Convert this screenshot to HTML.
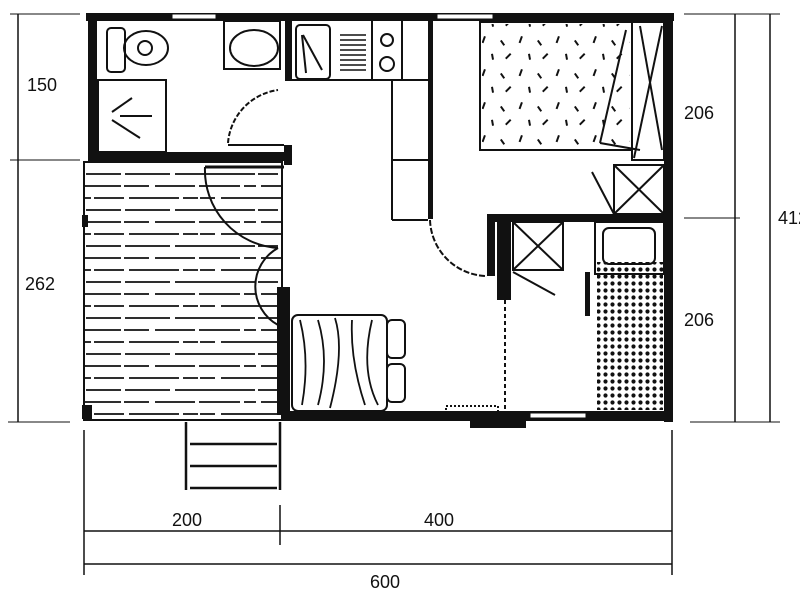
<!DOCTYPE html>
<html><head><style>
html,body{margin:0;padding:0;background:#fff;}
svg{display:block;}
text{font-family:"Liberation Sans",sans-serif;font-size:18px;fill:#111;}
</style></head><body>
<svg width="800" height="599" viewBox="0 0 800 599" xmlns="http://www.w3.org/2000/svg">
<defs>
<pattern id="dots" width="7" height="7" patternUnits="userSpaceOnUse"><circle cx="3.5" cy="3.5" r="2.1" fill="#111"/></pattern>
<pattern id="deck" width="200" height="36" patternUnits="userSpaceOnUse">
<line x1="0" y1="6" x2="200" y2="6" stroke="#111" stroke-width="1.8" stroke-dasharray="40 4 12 5 60 3 25 6"/>
<line x1="0" y1="18" x2="200" y2="18" stroke="#111" stroke-width="1.8" stroke-dasharray="15 6 70 3 30 5 50 4"/>
<line x1="0" y1="30" x2="200" y2="30" stroke="#111" stroke-width="1.8" stroke-dasharray="55 3 20 8 35 4 45 5"/>
</pattern>
<pattern id="spk" width="37" height="33" patternUnits="userSpaceOnUse">
<rect x="3" y="3" width="2" height="7" fill="#111" transform="rotate(20 3 3)"/>
<rect x="19" y="8" width="2" height="6" fill="#111" transform="rotate(-35 19 8)"/>
<rect x="29" y="20" width="2" height="7" fill="#111" transform="rotate(45 29 20)"/>
<rect x="10" y="21" width="2" height="6" fill="#111" transform="rotate(-10 10 21)"/>
</pattern>
</defs>
<g stroke="#111" fill="none">
<line x1="18" y1="14" x2="18" y2="422" stroke-width="1.5"/>
<line x1="10" y1="14" x2="80" y2="14"/><line x1="10" y1="160" x2="80" y2="160"/><line x1="8" y1="422" x2="70" y2="422"/>
<line x1="735" y1="14" x2="735" y2="422" stroke-width="1.5"/>
<line x1="770" y1="14" x2="770" y2="422" stroke-width="1.5"/>
<line x1="684" y1="14" x2="780" y2="14"/><line x1="684" y1="218" x2="740" y2="218"/><line x1="690" y1="422" x2="780" y2="422"/>
<line x1="84" y1="430" x2="84" y2="575" stroke-width="1.5"/>
<line x1="672" y1="430" x2="672" y2="575" stroke-width="1.5"/>
<line x1="280" y1="505" x2="280" y2="545" stroke-width="1.5"/>
<line x1="84" y1="531" x2="672" y2="531" stroke-width="1.5"/>
<line x1="84" y1="564" x2="672" y2="564" stroke-width="1.5"/>
</g>
<text x="27" y="91">150</text>
<text x="25" y="290">262</text>
<text x="684" y="119">206</text>
<text x="684" y="326">206</text>
<text x="778" y="224">412</text>
<text x="172" y="526">200</text>
<text x="424" y="526">400</text>
<text x="370" y="588">600</text>

<rect x="84" y="162" width="198" height="258" fill="url(#deck)"/>
<rect x="84" y="162" width="198" height="258" fill="none" stroke="#111" stroke-width="2"/>
<rect x="82" y="215" width="6" height="12" fill="#111"/>
<rect x="82" y="405" width="10" height="14" fill="#111"/>
<g stroke="#111" stroke-width="2.5" fill="none">
<line x1="186" y1="422" x2="186" y2="490"/><line x1="280" y1="422" x2="280" y2="490"/>
<line x1="190" y1="444" x2="277" y2="444"/><line x1="190" y1="466" x2="277" y2="466"/><line x1="190" y1="488" x2="277" y2="488"/>
</g>

<g fill="#111">
<rect x="86" y="13" width="588" height="8"/>
<rect x="88" y="13" width="9" height="148"/>
<rect x="664" y="13" width="9" height="409"/>
<rect x="282" y="411" width="391" height="10"/>
<rect x="88" y="152" width="204" height="9"/>
<rect x="284" y="145" width="8" height="20"/>
<rect x="285" y="21" width="7" height="60"/>
<rect x="428" y="21" width="5" height="198"/>
<rect x="277" y="287" width="13" height="128"/>
<rect x="487" y="214" width="186" height="8"/>
<rect x="487" y="214" width="8" height="62"/>
<rect x="497" y="222" width="14" height="78"/>
<rect x="585" y="272" width="5" height="44"/>
<rect x="470" y="420" width="56" height="8"/>
</g>
<rect x="172" y="14" width="44" height="5" fill="#fff" stroke="#111"/>
<rect x="437" y="14" width="56" height="5" fill="#fff" stroke="#111"/>
<rect x="530" y="413" width="56" height="5" fill="#fff" stroke="#111"/>
<rect x="446" y="406" width="52" height="6" fill="none" stroke="#111" stroke-width="2" stroke-dasharray="2 2"/>

<rect x="482" y="24" width="148" height="124" fill="url(#spk)"/>
<g stroke="#111" fill="none" stroke-width="2">
<rect x="107" y="28" width="18" height="44" rx="4"/>
<ellipse cx="146" cy="48" rx="22" ry="17"/>
<circle cx="145" cy="48" r="7"/>
<rect x="224" y="21" width="56" height="48"/>
<ellipse cx="254" cy="48" rx="24" ry="18"/>
<rect x="98" y="80" width="68" height="72"/>
<line x1="120" y1="116" x2="152" y2="116"/><line x1="112" y1="112" x2="132" y2="98"/><line x1="112" y1="120" x2="140" y2="138"/>
<path d="M228 143 A58 58 0 0 1 278 90" stroke-dasharray="5 2"/>
<line x1="228" y1="145" x2="284" y2="145"/>
<rect x="296" y="25" width="34" height="54" rx="4"/>
<line x1="302" y1="35" x2="306" y2="73"/><line x1="303" y1="35" x2="322" y2="70"/>
<g stroke-width="1.5"><line x1="340" y1="35" x2="366" y2="35"/><line x1="340" y1="40" x2="366" y2="40"/><line x1="340" y1="45" x2="366" y2="45"/><line x1="340" y1="50" x2="366" y2="50"/><line x1="340" y1="55" x2="366" y2="55"/><line x1="340" y1="60" x2="366" y2="60"/><line x1="340" y1="65" x2="366" y2="65"/><line x1="340" y1="70" x2="366" y2="70"/></g>
<line x1="292" y1="80" x2="428" y2="80"/>
<line x1="372" y1="21" x2="372" y2="80"/><line x1="402" y1="21" x2="402" y2="80"/>
<circle cx="387" cy="40" r="6"/><circle cx="387" cy="64" r="7"/>
<line x1="392" y1="80" x2="392" y2="220"/><line x1="392" y1="160" x2="428" y2="160"/><line x1="392" y1="220" x2="428" y2="220"/>
<path d="M430 220 A58 58 0 0 0 486 276" stroke-dasharray="6 2"/>
<path d="M205 167 A78 78 0 0 0 278 248" />
<path d="M278 248 A44 44 0 0 0 278 325"/>
<line x1="205" y1="167" x2="284" y2="167" stroke-width="3"/>
<rect x="480" y="22" width="152" height="128"/>
<line x1="632" y1="22" x2="632" y2="150"/>
<line x1="600" y1="143" x2="626" y2="30"/><line x1="600" y1="143" x2="640" y2="150"/>
<rect x="632" y="22" width="32" height="138"/>
<line x1="634" y1="158" x2="662" y2="26"/><line x1="640" y1="26" x2="662" y2="150"/>
<rect x="614" y="165" width="50" height="49"/>
<line x1="614" y1="165" x2="664" y2="214"/><line x1="664" y1="165" x2="614" y2="214"/>
<line x1="592" y1="172" x2="614" y2="214"/>
<rect x="513" y="222" width="50" height="48"/>
<line x1="513" y1="222" x2="563" y2="270"/><line x1="563" y1="222" x2="513" y2="270"/>
<line x1="513" y1="272" x2="555" y2="295"/>
<line x1="505" y1="300" x2="505" y2="410" stroke-dasharray="4 3"/>
<rect x="595" y="222" width="69" height="52"/>
<rect x="603" y="228" width="52" height="36" rx="6"/>
<rect x="292" y="315" width="95" height="96" rx="6"/>
<path d="M300 320 Q310 360 302 405 M318 320 Q330 360 318 405 M335 318 Q345 350 330 408 M352 320 Q350 360 365 405 M372 320 Q360 370 378 405" stroke-width="1.8"/>
<rect x="387" y="320" width="18" height="38" rx="5"/>
<rect x="387" y="364" width="18" height="38" rx="5"/>
</g>
<rect x="597" y="262" width="66" height="148" fill="url(#dots)"/>
</svg>
</body></html>
